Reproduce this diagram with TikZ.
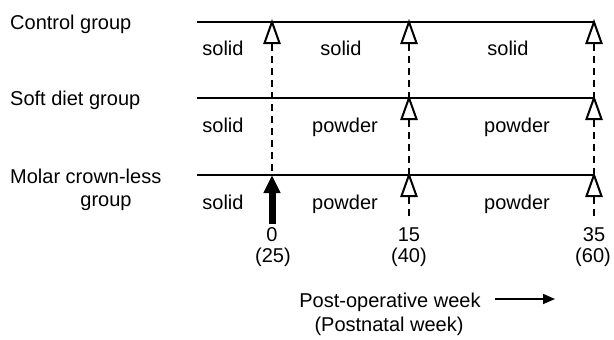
\documentclass[tikz,border=0pt]{standalone}
\usepackage{fontspec}
\setmainfont{Liberation Sans}
\usetikzlibrary{arrows.meta}
\begin{document}
\begin{tikzpicture}[x=1pt,y=-1pt,
  lbl/.style={inner sep=0pt,font=\fontsize{20}{23}\selectfont},
  timeline/.style={line width=1.7pt},
  guide/.style={line width=1.6pt,dash pattern=on 7pt off 5pt},
  marker/.style={line width=2pt,fill=white,line join=miter}]
\useasboundingbox (0,0) rectangle (614,340);

% group names
\node[lbl,anchor=base west] (g1) at (10,29) {Control group};
\node[lbl,anchor=base west] (g2) at (10,105) {Soft diet group};
\node[lbl,anchor=base west] (g3) at (10,183) {Molar crown-less};
\node[lbl,anchor=base] (g3b) at (106,206) {group};

% time lines
\foreach \r/\y in {1/22,2/98,3/175}{
  \coordinate (s\r) at (197,\y);
  \coordinate (e\r) at (594,\y);
  \draw[timeline] (s\r) -- (e\r);
}

% time points on each line
\foreach \t/\x in {a/272,b/409,c/594}{
  \foreach \r/\y in {1/22,2/98,3/175}{
    \coordinate (\t\r) at (\x,\y);
    \coordinate (\t\r base) at (\x,\y+22);
  }
}

% vertical guides
\draw[guide] (a1base) -- (a3);
\foreach \t in {b,c}{
  \draw[guide] (\t1base) -- (\t2);
  \draw[guide] (\t2base) -- (\t3);
  \draw[guide] (\t3base) -- +(0,19);
}

% open triangles
\foreach \p in {a1,b1,c1,b2,c2,b3,c3}{
  \draw[marker] (\p) -- ++(-7.5,21) -- ++(15,0) -- cycle;
}

% operation arrow
\coordinate (op) at (272,224);
\draw[line width=7pt,-{Triangle[width=16pt,length=18pt]}] (op) -- (a3);

% diet labels
\node[lbl,anchor=base] (d11) at (223,55) {solid};
\node[lbl,anchor=base] (d12) at (341,55) {solid};
\node[lbl,anchor=base] (d13) at (508,55) {solid};
\node[lbl,anchor=base] (d21) at (223,132) {solid};
\node[lbl,anchor=base] (d22) at (345,132) {powder};
\node[lbl,anchor=base] (d23) at (517,132) {powder};
\node[lbl,anchor=base] (d31) at (223,209) {solid};
\node[lbl,anchor=base] (d32) at (345,209) {powder};
\node[lbl,anchor=base] (d33) at (517,209) {powder};

% week numbers
\node[lbl,anchor=base] (w0) at (272,241) {0};
\node[lbl,anchor=base] (w15) at (409,241) {15};
\node[lbl,anchor=base] (w35) at (594,241) {35};
\node[lbl,anchor=base] (n0) at (273,262) {(25)};
\node[lbl,anchor=base] (n15) at (409,262) {(40)};
\node[lbl,anchor=base] (n35) at (593,262) {(60)};

% axis caption
\node[lbl,anchor=base] (cap1) at (390,307) {Post-operative week};
\node[lbl,anchor=base] (cap2) at (389,331) {(Postnatal week)};
\coordinate (ax1) at (495,299);
\coordinate (ax2) at (555,299);
\draw[line width=1.6pt,-{Triangle[width=10pt,length=12pt]}] (ax1) -- (ax2);
\end{tikzpicture}
\end{document}
